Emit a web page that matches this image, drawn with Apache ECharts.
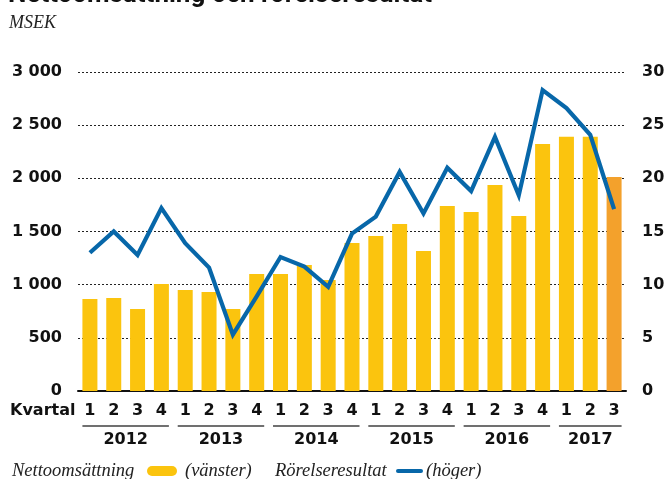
<!DOCTYPE html>
<html>
<head>
<meta charset="utf-8">
<script src="https://cdn.jsdelivr.net/npm/echarts@6/dist/echarts.min.js"></script>
<style>
html,body{margin:0;padding:0;background:#fff;}
#c{width:666px;height:479px;}
</style>
</head>
<body>
<div id="c"></div>
<script>
// ---- data ----
var quarters = ['1','2','3','4','1','2','3','4','1','2','3','4','1','2','3','4','1','2','3','4','1','2','3'];
var years = ['2012','2013','2014','2015','2016','2017'];
var quartersPerYear = [4,4,4,4,4,3];
var nettoomsattning = [865, 875, 771, 1006, 950, 931, 771, 1100, 1100, 1185, 1044, 1392, 1458, 1571, 1317, 1740, 1684, 1938, 1646, 2324, 2390, 2390, 2013];
var rorelseresultat = [13.0, 15.0, 12.8, 17.2, 13.9, 11.6, 5.3, 8.9, 12.6, 11.7, 9.8, 14.8, 16.4, 20.6, 16.7, 21.0, 18.8, 23.9, 18.4, 28.3, 26.6, 24.1, 17.1];
var leftTicks = [0, 500, 1000, 1500, 2000, 2500, 3000];
var rightTicks = [0, 5, 10, 15, 20, 25, 30];

var YELLOW = '#FBC40E', ORANGE = '#F3A12C', BLUE = '#0767A9';
var chart = echarts.init(document.getElementById('c'), null, {renderer: 'canvas'});

var barData = nettoomsattning.map(function (v, i) {
  return i === nettoomsattning.length - 1 ? {value: v, itemStyle: {color: ORANGE}} : v;
});

var labelFont = {fontFamily: 'DejaVu Sans', fontWeight: 'bold', fontSize: 16, color: '#111'};

chart.setOption({
  animation: false,
  backgroundColor: '#fff',
  grid: {left: 78, right: 40, top: 72, bottom: 88, containLabel: false, outerBoundsMode: 'none'},
  xAxis: {
    type: 'category',
    data: quarters,
    boundaryGap: true,
    axisLine: {show: true, lineStyle: {color: '#111', width: 2}},
    axisTick: {show: false},
    axisLabel: Object.assign({margin: 12, interval: 0}, labelFont),
    splitLine: {show: false}
  },
  yAxis: [{
    type: 'value', min: leftTicks[0], max: leftTicks[leftTicks.length - 1], interval: 500,
    axisLine: {show: false}, axisTick: {show: false},
    axisLabel: Object.assign({margin: 16, padding: [0, 0, 7, 0],
      formatter: function (v) { return String(v).replace(/\B(?=(\d{3})+(?!\d))/g, ' '); }}, labelFont),
    splitLine: {show: true, lineStyle: {color: '#222', type: [2, 2], width: 1}}
  }, {
    type: 'value', min: rightTicks[0], max: rightTicks[rightTicks.length - 1], interval: 5,
    axisLine: {show: false}, axisTick: {show: false},
    axisLabel: Object.assign({margin: 16, padding: [0, 0, 7, 0]}, labelFont),
    splitLine: {show: false}
  }],
  series: [{
    name: 'Nettoomsättning', type: 'bar', yAxisIndex: 0,
    data: barData, barWidth: 15,
    itemStyle: {color: YELLOW}, z: 2
  }, {
    name: 'Rörelseresultat', type: 'line', yAxisIndex: 1,
    data: rorelseresultat, showSymbol: false, symbol: 'none',
    lineStyle: {color: BLUE, width: 4.2, join: 'miter'}, z: 3
  }]
});

// ---- annotations computed through the axis scale ----
var g = [];
var serif = 'Liberation Serif';
g.push({type: 'text', x: 8, y: 8, style: {text: 'Nettoomsättning och rörelseresultat', fontFamily: 'Roboto', fontWeight: 'bold', fontSize: 26, fill: '#111', verticalAlign: 'bottom', align: 'left'}});
g.push({type: 'text', x: 9, y: 23, style: {text: 'MSEK', fontFamily: serif, fontStyle: 'italic', fontSize: 18, fill: '#222', verticalAlign: 'middle', align: 'left'}});
g.push({type: 'text', x: 10, y: 411, style: {text: 'Kvartal', fontFamily: 'DejaVu Sans', fontWeight: 'bold', fontSize: 16, fill: '#111', verticalAlign: 'middle', align: 'left'}});

var idx = 0;
for (var k = 0; k < years.length; k++) {
  var first = idx, last = idx + quartersPerYear[k] - 1;
  var x1 = chart.convertToPixel({xAxisIndex: 0}, first) - 7.5;
  var x2 = chart.convertToPixel({xAxisIndex: 0}, last) + 7.5;
  g.push({type: 'line', shape: {x1: x1, y1: 426, x2: x2, y2: 426}, style: {stroke: '#707070', lineWidth: 2}});
  g.push({type: 'text', x: (x1 + x2) / 2, y: 440, style: {text: years[k], fontFamily: 'DejaVu Sans', fontWeight: 'bold', fontSize: 16, fill: '#111', align: 'center', verticalAlign: 'middle'}});
  idx = last + 1;
}

// legend
var ly = 471;
g.push({type: 'text', x: 12, y: ly, style: {text: 'Nettoomsättning', fontFamily: serif, fontStyle: 'italic', fontSize: 18.5, fill: '#222', verticalAlign: 'middle'}});
g.push({type: 'rect', shape: {x: 147, y: ly - 5, width: 30, height: 10, r: 5}, style: {fill: YELLOW}});
g.push({type: 'text', x: 185, y: ly, style: {text: '(vänster)', fontFamily: serif, fontStyle: 'italic', fontSize: 18.5, fill: '#222', verticalAlign: 'middle'}});
g.push({type: 'text', x: 275, y: ly, style: {text: 'Rörelseresultat', fontFamily: serif, fontStyle: 'italic', fontSize: 18.5, fill: '#222', verticalAlign: 'middle'}});
g.push({type: 'line', shape: {x1: 398, y1: ly, x2: 421, y2: ly}, style: {stroke: BLUE, lineWidth: 4, lineCap: 'round'}});
g.push({type: 'text', x: 426, y: ly, style: {text: '(höger)', fontFamily: serif, fontStyle: 'italic', fontSize: 18.5, fill: '#222', verticalAlign: 'middle'}});

chart.setOption({graphic: g});
</script>
</body>
</html>
